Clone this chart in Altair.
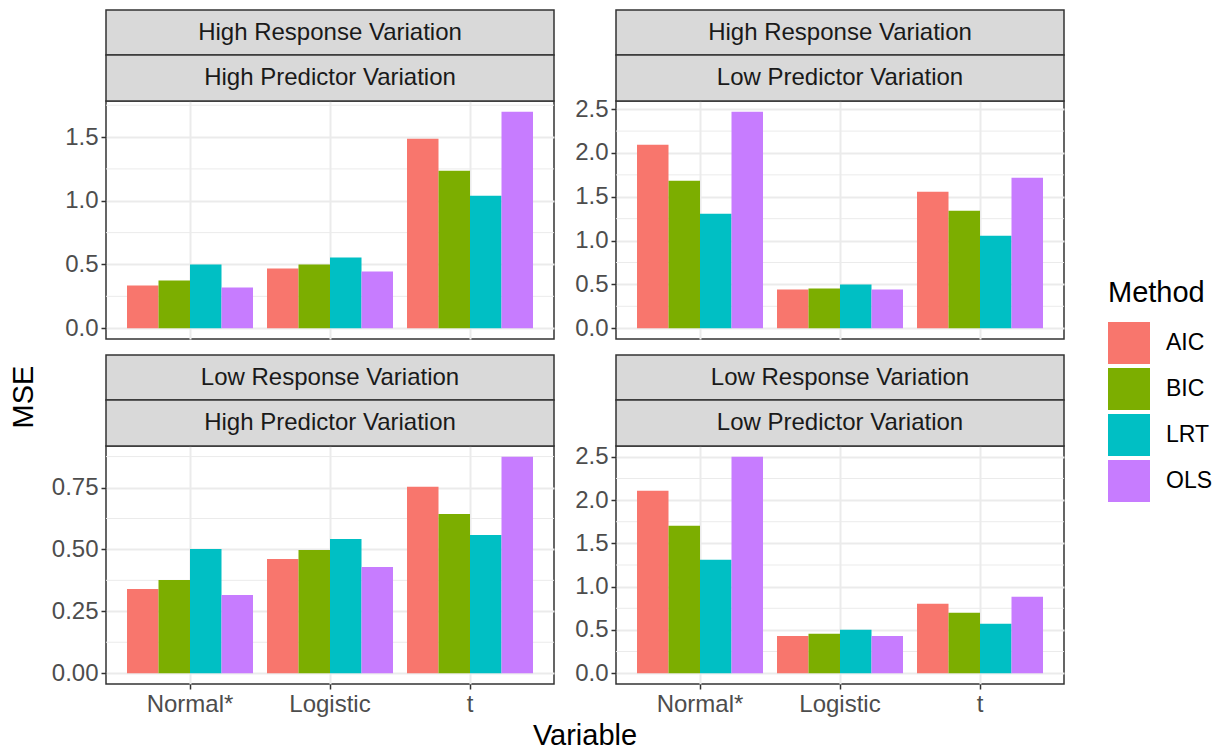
import altair as alt
import pandas as pd

FONT = "Liberation Sans"
W, H = 448, 238

variables = ["Normal*", "Logistic", "t"]
methods = ["AIC", "BIC", "LRT", "OLS"]
colors = ["#F8766D", "#7CAE00", "#00BFC4", "#C77CFF"]

# MSE values (order follows `variables`)
hr_hp = {"AIC": [0.334, 0.468, 1.487], "BIC": [0.374, 0.499, 1.236],
         "LRT": [0.499, 0.554, 1.040], "OLS": [0.319, 0.444, 1.698]}
hr_lp = {"AIC": [2.093, 0.441, 1.558], "BIC": [1.683, 0.452, 1.341],
         "LRT": [1.307, 0.498, 1.056], "OLS": [2.470, 0.441, 1.717]}
lr_hp = {"AIC": [0.340, 0.461, 0.753], "BIC": [0.376, 0.498, 0.643],
         "LRT": [0.502, 0.542, 0.558], "OLS": [0.316, 0.429, 0.874]}
lr_lp = {"AIC": [2.107, 0.431, 0.801], "BIC": [1.703, 0.455, 0.697],
         "LRT": [1.310, 0.501, 0.570], "OLS": [2.500, 0.431, 0.882]}

ticks_a = [0, 0.5, 1.0, 1.5]
minor_a = [0.25, 0.75, 1.25, 1.75]
ticks_b = [0, 0.5, 1.0, 1.5, 2.0, 2.5]
minor_b = [0.25, 0.75, 1.25, 1.75, 2.25]
ticks_c = [0, 0.25, 0.5, 0.75]
minor_c = [0.125, 0.375, 0.625, 0.875]

LEGEND = alt.Legend(title="Method", orient="none", legendX=1002, legendY=178,
                    symbolType="square", symbolSize=1764,
                    symbolStrokeWidth=0, symbolOpacity=1,
                    labelFontSize=23, titleFontSize=29,
                    titleFontWeight="normal",
                    labelFont=FONT, titleFont=FONT,
                    labelColor="black", titleColor="black",
                    rowPadding=4, labelOffset=16, titlePadding=14)


def panel(vals, resp, pred, ticks, minor, fmt, bottom, extra=None):
    rows = [{"Variable": v, "Method": m, "MSE": vals[m][i]}
            for i, v in enumerate(variables) for m in methods]
    df = pd.DataFrame(rows)
    top = df["MSE"].max()
    yscale = alt.Scale(domain=[-0.05 * top, 1.05 * top], nice=False, zero=False)
    yaxis = alt.Axis(values=ticks, format=fmt, title=None, grid=True)
    xaxis = alt.Axis(title=None, labels=bottom, ticks=bottom, domain=False,
                     grid=True, labelAngle=0)
    rules = alt.Chart(pd.DataFrame({"MSE": minor})).mark_rule(
        color="#EBEBEB", strokeWidth=1).encode(
        y=alt.Y("MSE:Q", scale=yscale, axis=yaxis))
    bars = alt.Chart(df).mark_bar(opacity=1).encode(
        x=alt.X("Variable:N", sort=variables,
                scale=alt.Scale(paddingInner=0.1, paddingOuter=0.15), axis=xaxis),
        xOffset=alt.XOffset("Method:N", sort=methods,
                            scale=alt.Scale(paddingInner=0, paddingOuter=0)),
        y=alt.Y("MSE:Q", scale=yscale, axis=yaxis),
        y2=alt.datum(0),
        color=alt.Color("Method:N", scale=alt.Scale(domain=methods, range=colors),
                        legend=LEGEND),
    )
    sdf1 = pd.DataFrame({"label": [resp]})
    sdf2 = pd.DataFrame({"label": [pred]})
    s1 = alt.Chart(sdf1).mark_rect(fill="#D9D9D9", stroke="#333333", strokeWidth=1.5).encode(
        x=alt.value(0), x2=alt.value(W), y=alt.value(-91), y2=alt.value(-46))
    s2 = alt.Chart(sdf2).mark_rect(fill="#D9D9D9", stroke="#333333", strokeWidth=1.5).encode(
        x=alt.value(0), x2=alt.value(W), y=alt.value(-46), y2=alt.value(0))
    t1 = alt.Chart(sdf1).mark_text(fontSize=24, color="#1A1A1A", font=FONT,
                                   baseline="middle").encode(
        x=alt.value(W / 2), y=alt.value(-68), text="label:N")
    t2 = alt.Chart(sdf2).mark_text(fontSize=24, color="#1A1A1A", font=FONT,
                                   baseline="middle").encode(
        x=alt.value(W / 2), y=alt.value(-23), text="label:N")
    layers = [rules, bars, s1, s2, t1, t2]
    if extra is not None:
        layers.append(extra)
    return alt.layer(*layers).properties(width=W, height=H)


mse_title = alt.Chart(pd.DataFrame({"t": ["MSE"]})).mark_text(
    fontSize=29, font=FONT, color="black", angle=270, baseline="middle").encode(
    x=alt.value(-82), y=alt.value(-49), text="t:N")
var_title = alt.Chart(pd.DataFrame({"t": ["Variable"]})).mark_text(
    fontSize=29, font=FONT, color="black", baseline="middle").encode(
    x=alt.value(-31), y=alt.value(290), text="t:N")

tl = panel(hr_hp, "High Response Variation", "High Predictor Variation",
           ticks_a, minor_a, ".1f", False)
tr = panel(hr_lp, "High Response Variation", "Low Predictor Variation",
           ticks_b, minor_b, ".1f", False)
bl = panel(lr_hp, "Low Response Variation", "High Predictor Variation",
           ticks_c, minor_c, ".2f", True, mse_title)
br = panel(lr_lp, "Low Response Variation", "Low Predictor Variation",
           ticks_b, minor_b, ".1f", True, var_title)

chart = alt.concat(tl, tr, bl, br, columns=2,
                   spacing={"row": 107, "column": 62}, bounds="flush").properties(
    padding={"left": 1, "top": 0, "right": 5, "bottom": 0}
).configure_view(
    stroke="#333333", strokeWidth=1.5, fill="white"
).configure_axis(
    labelFont=FONT, labelFontSize=24, labelColor="#4D4D4D",
    tickColor="#333333", tickWidth=1.5, tickSize=5, labelPadding=3,
    gridColor="#EBEBEB", gridWidth=2, domain=False
)

chart.save("out.html", embed_options={"renderer": "svg", "actions": False})
